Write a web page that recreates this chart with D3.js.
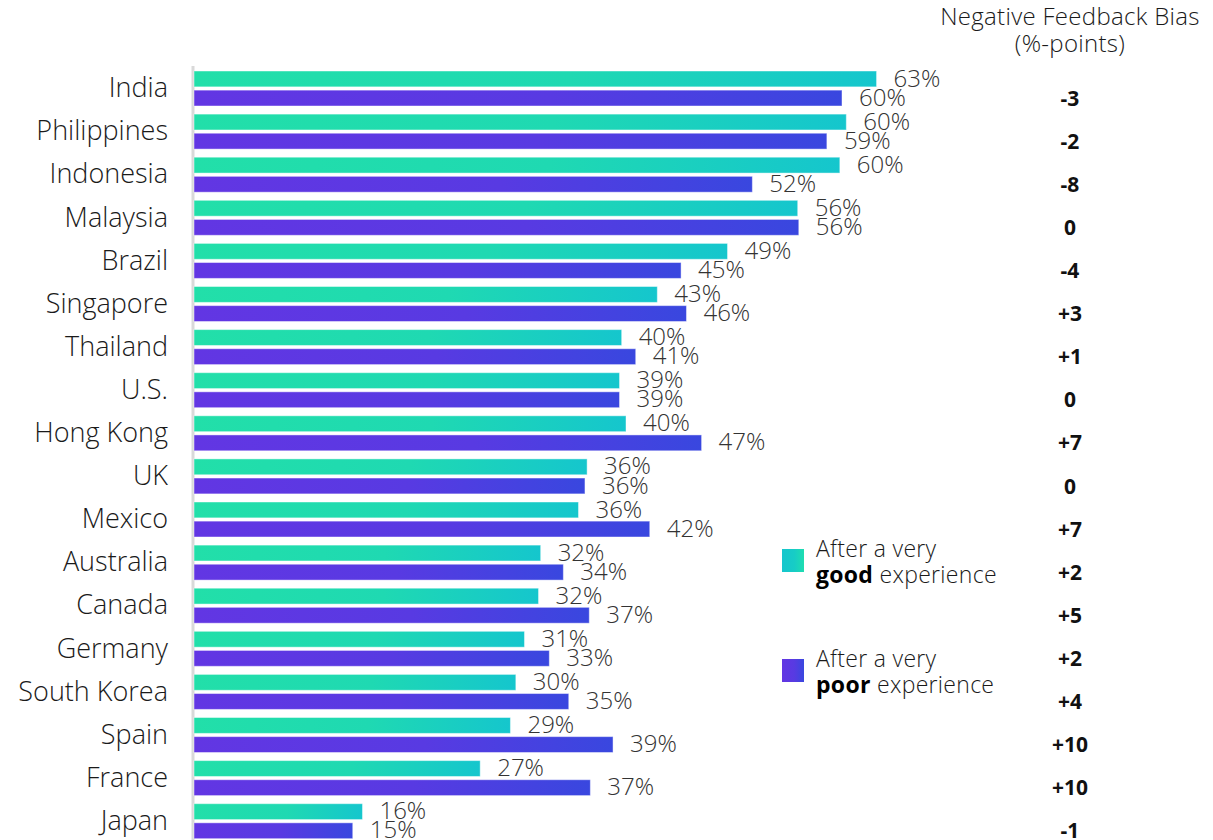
<!DOCTYPE html>
<html>
<head>
<meta charset="utf-8">
<script src="https://cdn.jsdelivr.net/npm/d3@7"></script>
<style>
  body { margin: 0; background: #fff; }
  svg { font-family: "Open Sans", Roboto, sans-serif; }
</style>
</head>
<body>
<div id="main"></div>
<script>
// values (bar lengths, %)
var countries = ["India", "Philippines", "Indonesia", "Malaysia", "Brazil", "Singapore", "Thailand", "U.S.",
  "Hong Kong", "UK", "Mexico", "Australia", "Canada", "Germany", "South Korea", "Spain", "France", "Japan"];
var good = [63.2, 60.4, 59.8, 55.9, 49.4, 42.9, 39.6, 39.4, 40.0, 36.4, 35.6, 32.1, 31.9, 30.6, 29.8, 29.3, 26.5, 15.6];
var poor = [60.0, 58.6, 51.7, 56.0, 45.1, 45.6, 40.9, 39.4, 47.0, 36.2, 42.2, 34.2, 36.6, 32.9, 34.7, 38.8, 36.7, 14.7];
var bias = ["-3", "-2", "-8", "0", "-4", "+3", "+1", "0", "+7", "0", "+7", "+2", "+5", "+2", "+4", "+10", "+10", "-1"];
var series = ["good", "poor"];
var legendWords = { good: "good", poor: "poor" };

var width = 1213, height = 840;

var svg = d3.select('#main').append('svg')
    .attr('width', width).attr('height', height);

// gradients
var defs = svg.append('defs');
function grad(id, c0, c1) {
  var g = defs.append('linearGradient').attr('id', id)
      .attr('x1', 0).attr('x2', 1).attr('y1', 0).attr('y2', 0);
  g.append('stop').attr('offset', '0%').attr('stop-color', c0);
  g.append('stop').attr('offset', '55%').attr('stop-color', d3.interpolateRgb(c0, c1)(0.25));
  g.append('stop').attr('offset', '100%').attr('stop-color', c1);
}
grad('g-good', '#22dfa9', '#15c6cd');
grad('g-poor', '#6236e3', '#3947df');
grad('g-good-leg', '#15c6cd', '#1eddb0');
grad('g-poor-leg', '#6236e3', '#3947df');

var x = d3.scaleLinear().domain([0, 100]).range([194, 194 + 1080]);
var y = d3.scaleBand().domain(countries).range([66, 66 + 18 * 43.1]);
var sub = d3.scaleBand().domain(series).range([5, 40]).paddingInner(0.17);

// axis with country names
var axis = svg.append('g')
    .attr('transform', 'translate(193,0)')
    .call(d3.axisLeft(y).tickSize(0).tickSizeOuter(0).tickPadding(25));
axis.select('.domain').attr('stroke', '#d9d9d9').attr('stroke-width', 3)
    .attr('d', 'M0,66V840');
axis.selectAll('text')
    .attr('font-size', 27).attr('font-weight', 300).attr('fill', '#1a1a1a')
    .attr('font-family', '"Open Sans", sans-serif')
    .attr('dy', '0.36em');

var rows = countries.map(function(c, i) {
  return { country: c, good: good[i], poor: poor[i], bias: bias[i] };
});

var row = svg.append('g').selectAll('g').data(rows).join('g')
    .attr('transform', function(d) { return 'translate(0,' + y(d.country) + ')'; });

series.forEach(function(s) {
  row.append('rect')
      .attr('x', x(0))
      .attr('y', sub(s))
      .attr('width', function(d) { return x(d[s]) - x(0); })
      .attr('height', sub.bandwidth())
      .attr('fill', 'url(#g-' + s + ')')
      .attr('stroke', 'rgba(255,255,255,0.45)')
      .attr('stroke-width', 1);

  row.append('text')
      .attr('x', function(d) { return x(d[s]) + 17; })
      .attr('y', sub(s) + sub.bandwidth() / 2 - 1)
      .attr('dy', '0.36em')
      .attr('font-size', 24).attr('font-weight', 300).attr('fill', '#333')
      .text(function(d) { return Math.round(d[s]) + '%'; });
});

// bias column
row.append('text')
    .attr('x', 1070)
    .attr('y', sub('poor') + sub.bandwidth() / 2)
    .attr('dy', '0.36em')
    .attr('text-anchor', 'middle')
    .attr('font-size', 21).attr('font-weight', 700).attr('fill', '#111')
    .text(function(d) { return d.bias; });

var head = svg.append('g').attr('text-anchor', 'middle')
    .attr('font-size', 24).attr('font-weight', 300).attr('fill', '#1a1a1a')
    .attr('letter-spacing', 0.3);
head.append('text').attr('x', 1070).attr('y', 25).text('Negative Feedback Bias');
head.append('text').attr('x', 1070).attr('y', 52).text('(%-points)');

// legend
var legY = { good: 549, poor: 659 };
series.forEach(function(s) {
  var lg = svg.append('g').attr('transform', 'translate(782,' + legY[s] + ')')
      .attr('letter-spacing', 0.3);
  lg.append('rect').attr('width', 22).attr('height', 23).attr('fill', 'url(#g-' + s + '-leg)');
  lg.append('text').attr('x', 34).attr('y', 8).attr('font-size', 23).attr('font-weight', 300)
      .attr('fill', '#1a1a1a').text('After a very');
  var t = lg.append('text').attr('x', 34).attr('y', 34).attr('font-size', 23).attr('fill', '#1a1a1a');
  t.append('tspan').attr('font-weight', 700).attr('fill', '#000').text(legendWords[s]);
  t.append('tspan').attr('font-weight', 300).text(' experience');
});
</script>
</body>
</html>
